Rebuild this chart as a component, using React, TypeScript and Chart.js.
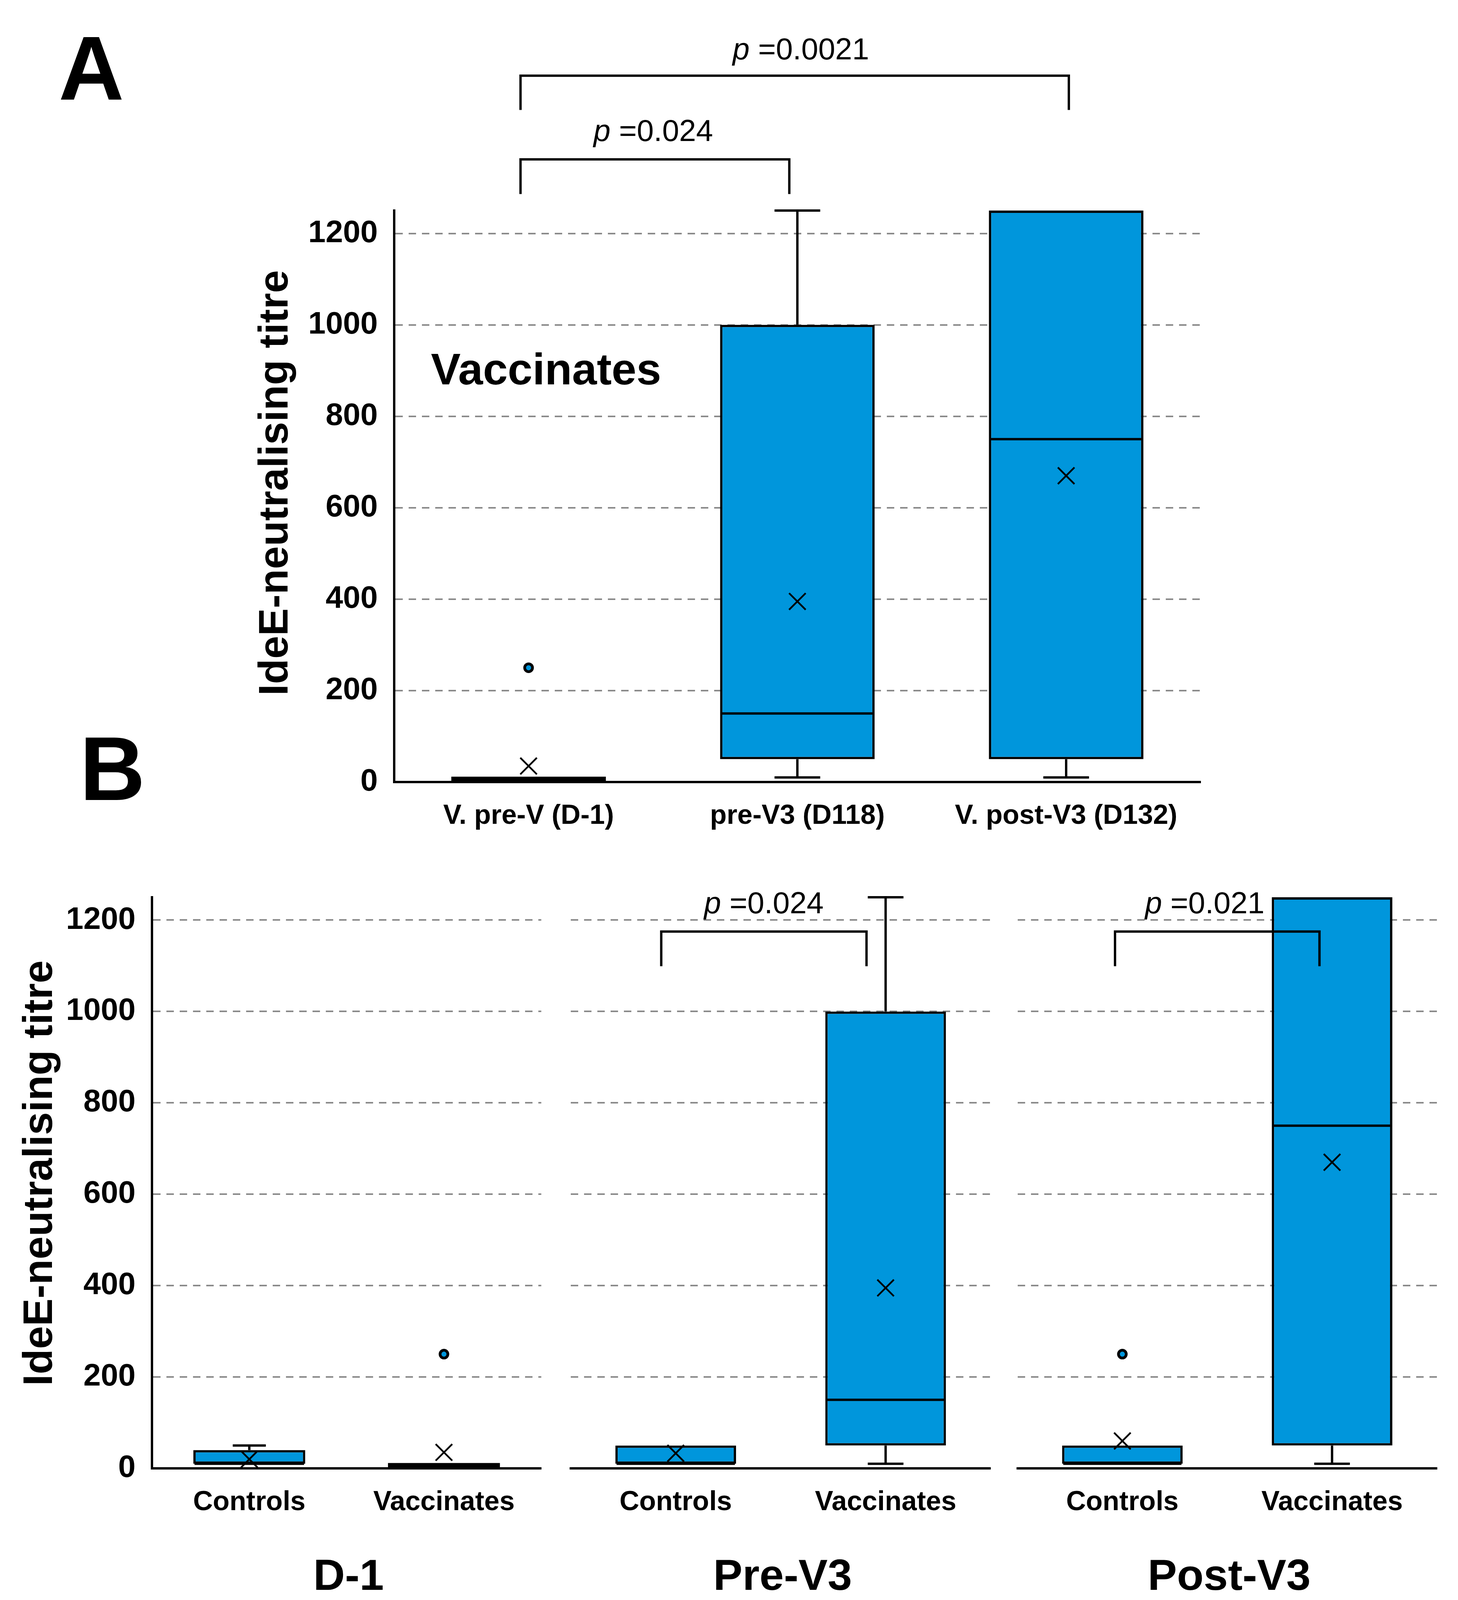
import React, { useEffect, useRef } from "react";
import { Chart, registerables } from "chart.js";

Chart.register(...registerables);

// ---------------- data ----------------
const yTickValues = [0, 200, 400, 600, 800, 1000, 1200];
const yTickLabels = ["0", "200", "400", "600", "800", "1000", "1200"];
const yMax = 1250;
const yTitle = "IdeE-neutralising titre";

// Panel A — vaccinates over time
const aCategories = ["V. pre-V (D-1)", "pre-V3 (D118)", "V. post-V3 (D132)"];
const aMin = [10, 10, 10];
const aQ1 = [10, 50, 50];
const aMedian = [10, 150, 750];
const aQ3 = [10, 1000, 1250];
const aMax = [10, 1250, 1250];
const aMean = [35, 395, 670];
const aOutliers = [[250], [], []];
const aPValues = ["0.024", "0.0021"];

// Panel B — controls vs vaccinates per time point
const bCategories = ["Controls", "Vaccinates"];
const bGroupTitles = [["D-1"], ["Pre-V3", "D 118"], ["Post-V3", "D 132"]];
const bMin = [[10, 10], [10, 10], [10, 10]];
const bQ1 = [[10, 10], [10, 50], [10, 50]];
const bMedian = [[10, 10], [10, 150], [10, 750]];
const bQ3 = [[40, 10], [50, 1000], [50, 1250]];
const bMax = [[50, 10], [50, 1250], [50, 1250]];
const bMean = [[20, 35], [33, 395], [60, 670]];
const bOutliers = [[[], [250]], [[], []], [[250], []]];
const bPValues = [null, "0.024", "0.021"];

// ---------------- styles / layout ----------------
const FONT = "'Liberation Sans', Arial, Helvetica, sans-serif";
const BOX_BLUE = "#0096DC";
const GRID_GREY = "#8a8a8a";

type Stats = {
  min: number[];
  q1: number[];
  median: number[];
  q3: number[];
  max: number[];
  mean: number[];
  outliers: number[][];
};

type Bracket = {
  from: number;
  to: number;
  top: number;
  leg: number;
  label: string;
  labelAt: number;
  labelY: number;
};

type TextItem = {
  text: string;
  x: number;
  y: number;
  size: number;
  bold?: boolean;
  align?: CanvasTextAlign;
  rotate?: boolean;
  baseline?: CanvasTextBaseline;
};

type Layout = {
  left: number;
  top: number;
  width: number;
  height: number;
  padding: { left: number; right: number; top: number; bottom: number };
  yAxisWidth: number;
  xAxisHeight: number;
};

const PANEL_A_LAYOUT: Layout = {
  left: 0,
  top: 0,
  width: 3732,
  height: 2200,
  padding: { left: 709, right: 659, top: 539, bottom: 48 },
  yAxisWidth: 300,
  xAxisHeight: 150,
};

const GROUP_LAYOUTS: Layout[] = [
  { left: 0, top: 2200, width: 1420, height: 2063, padding: { left: 89, right: 22, top: 97, bottom: 354 }, yAxisWidth: 300, xAxisHeight: 150 },
  { left: 1420, top: 2200, width: 1150, height: 2063, padding: { left: 41, right: 33, top: 97, bottom: 354 }, yAxisWidth: 0, xAxisHeight: 150 },
  { left: 2570, top: 2200, width: 1162, height: 2063, padding: { left: 33, right: 54, top: 97, bottom: 354 }, yAxisWidth: 0, xAxisHeight: 150 },
];

const A_BRACKETS: Bracket[] = [
  { from: -0.03, to: 0.97, top: 1362, leg: 1286, label: aPValues[0], labelAt: 0.464, labelY: 1402 },
  { from: -0.03, to: 2.01, top: 1545, leg: 1470, label: aPValues[1], labelAt: 1.013, labelY: 1581 },
];

const B_BRACKET_POS = [
  null,
  { from: -0.069, to: 0.909, top: 1175, leg: 1099, labelAt: 0.42, labelY: 1215 },
  { from: -0.035, to: 0.94, top: 1175, leg: 1099, labelAt: 0.393, labelY: 1215 },
];

const A_TEXTS: TextItem[] = [
  { text: "A", x: 150, y: 255, size: 232, bold: true },
  { text: "B", x: 204, y: 2048, size: 232, bold: true },
  { text: "Vaccinates", x: 1103, y: 984, size: 114, bold: true },
  { text: yTitle, x: 707, y: 1236, size: 106, bold: true, align: "center", rotate: true, baseline: "middle" },
];

const B1_TEXTS: TextItem[] = [
  { text: yTitle, x: 104, y: 803, size: 106, bold: true, align: "center", rotate: true, baseline: "middle" },
];

// ---------------- drawing helpers ----------------
function drawPText(ctx: CanvasRenderingContext2D, value: string, cx: number, baseline: number, size: number) {
  const italic = `italic ${size}px ${FONT}`;
  const regular = `${size}px ${FONT}`;
  ctx.font = italic;
  const wp = ctx.measureText("p").width;
  ctx.font = regular;
  const rest = " =" + value;
  const wr = ctx.measureText(rest).width;
  const x0 = cx - (wp + wr) / 2;
  ctx.textAlign = "left";
  ctx.textBaseline = "alphabetic";
  ctx.fillStyle = "#000";
  ctx.font = italic;
  ctx.fillText("p", x0, baseline);
  ctx.font = regular;
  ctx.fillText(rest, x0 + wp, baseline);
}

function makeBoxPlugin(stats: Stats) {
  return {
    id: "boxExtras",
    afterDatasetDraw(chart: any, args: any) {
      if (args.index !== 0) return;
      const ctx: CanvasRenderingContext2D = chart.ctx;
      const xs = chart.scales.x;
      const ys = chart.scales.y;
      const catW = xs.getPixelForValue(1) - xs.getPixelForValue(0);
      const capHalf = catW * 0.085;
      ctx.save();
      ctx.strokeStyle = "#000";
      ctx.fillStyle = "#000";
      ctx.lineWidth = 6;
      ctx.lineCap = "butt";
      const line = (x1: number, y1: number, x2: number, y2: number) => {
        ctx.beginPath();
        ctx.moveTo(x1, y1);
        ctx.lineTo(x2, y2);
        ctx.stroke();
      };
      args.meta.data.forEach((el: any, i: number) => {
        const { x, width } = el.getProps(["x", "width"], true);
        const half = width / 2;
        const yq1 = ys.getPixelForValue(stats.q1[i]);
        const yq3 = ys.getPixelForValue(stats.q3[i]);
        const ymed = ys.getPixelForValue(stats.median[i]);
        const ymax = ys.getPixelForValue(stats.max[i]);
        const ymin = ys.getPixelForValue(stats.min[i]);
        if (stats.max[i] > stats.q3[i]) {
          line(x, yq3, x, ymax);
          line(x - capHalf, ymax, x + capHalf, ymax);
        }
        if (stats.min[i] < stats.q1[i]) {
          line(x, yq1, x, ymin);
          line(x - capHalf, ymin, x + capHalf, ymin);
        }
        if (stats.q3[i] === stats.q1[i]) {
          // flat box: drawn as a heavy bar
          ctx.fillRect(x - half, yq3 - 2, half * 2, 14);
        } else {
          line(x - half + 3, ymed, x + half - 3, ymed);
        }
      });
      ctx.restore();
    },
  };
}

function makeTextPlugin(texts: TextItem[], brackets: Bracket[], groupTitle?: string[]) {
  return {
    id: "annotTexts",
    afterDraw(chart: any) {
      const ctx: CanvasRenderingContext2D = chart.ctx;
      const xs = chart.scales.x;
      const ys = chart.scales.y;
      ctx.save();
      ctx.fillStyle = "#000";
      texts.forEach((t) => {
        ctx.save();
        ctx.font = `${t.bold ? "bold " : ""}${t.size}px ${FONT}`;
        ctx.textAlign = t.align || "left";
        ctx.textBaseline = t.baseline || "alphabetic";
        if (t.rotate) {
          ctx.translate(t.x, t.y);
          ctx.rotate(-Math.PI / 2);
          ctx.fillText(t.text, 0, 0);
        } else {
          ctx.fillText(t.text, t.x, t.y);
        }
        ctx.restore();
      });
      ctx.strokeStyle = "#000";
      ctx.lineWidth = 6;
      ctx.lineCap = "butt";
      ctx.lineJoin = "miter";
      brackets.forEach((b) => {
        const x1 = xs.getPixelForValue(b.from);
        const x2 = xs.getPixelForValue(b.to);
        const yt = ys.getPixelForValue(b.top);
        const yl = ys.getPixelForValue(b.leg);
        ctx.beginPath();
        ctx.moveTo(x1, yl);
        ctx.lineTo(x1, yt);
        ctx.lineTo(x2, yt);
        ctx.lineTo(x2, yl);
        ctx.stroke();
        drawPText(ctx, b.label, xs.getPixelForValue(b.labelAt), ys.getPixelForValue(b.labelY), 78);
      });
      if (groupTitle) {
        const cx = (chart.chartArea.left + chart.chartArea.right) / 2 + 5;
        ctx.font = `bold 112px ${FONT}`;
        ctx.textAlign = "center";
        ctx.textBaseline = "alphabetic";
        groupTitle.forEach((line, k) => {
          ctx.fillText(line, cx, 1870 + k * 140);
        });
      }
      ctx.restore();
    },
  };
}

// ---------------- component ----------------
type PanelProps = {
  layout: Layout;
  categories: string[];
  stats: Stats;
  showYAxis: boolean;
  texts: TextItem[];
  brackets: Bracket[];
  groupTitle?: string[];
};

function BoxPanel({ layout, categories, stats, showYAxis, texts, brackets, groupTitle }: PanelProps) {
  const ref = useRef<HTMLCanvasElement | null>(null);

  useEffect(() => {
    if (!ref.current) return;
    const outlierCount = Math.max(0, ...stats.outliers.map((o) => o.length));
    const datasets: any[] = [
      {
        type: "bar",
        label: "Interquartile range",
        data: categories.map((_, i) => [stats.q1[i], stats.q3[i]]),
        backgroundColor: BOX_BLUE,
        borderColor: "#000",
        borderWidth: 6,
        borderSkipped: false,
        barPercentage: 0.575,
        categoryPercentage: 1,
        order: 3,
      },
      {
        type: "line",
        label: "Mean",
        data: stats.mean,
        showLine: false,
        pointStyle: "crossRot",
        pointRadius: 30,
        pointBorderWidth: 4.5,
        pointBorderColor: "#000",
        pointBackgroundColor: "rgba(0,0,0,0)",
        order: 1,
      },
    ];
    for (let k = 0; k < outlierCount; k++) {
      datasets.push({
        type: "line",
        label: "Outlier",
        data: stats.outliers.map((o) => (o[k] === undefined ? null : o[k])),
        showLine: false,
        pointStyle: "circle",
        pointRadius: 10,
        pointBorderWidth: 7,
        pointBorderColor: "#000",
        pointBackgroundColor: BOX_BLUE,
        order: 2,
      });
    }

    const chart = new Chart(ref.current, {
      type: "bar",
      data: { labels: categories, datasets },
      options: {
        animation: false,
        responsive: false,
        devicePixelRatio: 1,
        events: [],
        layout: { padding: layout.padding },
        plugins: {
          legend: { display: false },
          tooltip: { enabled: false },
          title: { display: false },
        },
        scales: {
          x: {
            offset: true,
            grid: { display: false, drawTicks: false },
            border: { display: true, color: "#000", width: 6 },
            ticks: {
              color: "#000",
              font: { family: FONT, size: 70, weight: "bold" },
              padding: 46,
              maxRotation: 0,
              autoSkip: false,
            },
            afterFit: (scale: any) => {
              scale.height = layout.xAxisHeight;
            },
          },
          y: {
            min: 0,
            max: yMax,
            afterBuildTicks: (scale: any) => {
              scale.ticks = yTickValues.map((v) => ({ value: v }));
            },
            grid: {
              color: (c: any) => (c.tick && c.tick.value === 0 ? "rgba(0,0,0,0)" : GRID_GREY),
              lineWidth: 4,
              drawTicks: false,
            },
            border: { display: showYAxis, color: "#000", width: 6, dash: [19, 15] },
            ticks: {
              display: showYAxis,
              color: "#000",
              font: { family: FONT, size: 80, weight: "bold" },
              padding: 42,
              callback: (value: any) => {
                const idx = yTickValues.indexOf(Number(value));
                return idx >= 0 ? yTickLabels[idx] : "";
              },
            },
            afterFit: (scale: any) => {
              scale.width = layout.yAxisWidth;
            },
          },
        },
      } as any,
      plugins: [makeBoxPlugin(stats), makeTextPlugin(texts, brackets, groupTitle)],
    });
    return () => chart.destroy();
  }, []);

  return (
    <canvas
      ref={ref}
      width={layout.width}
      height={layout.height}
      style={{ position: "absolute", left: layout.left, top: layout.top, width: layout.width, height: layout.height }}
    />
  );
}

export default function App() {
  const aStats: Stats = { min: aMin, q1: aQ1, median: aMedian, q3: aQ3, max: aMax, mean: aMean, outliers: aOutliers };
  return (
    <div style={{ position: "absolute", left: 0, top: 0, width: 3732, height: 4263, background: "#fff", overflow: "hidden" }}>
      <BoxPanel
        layout={PANEL_A_LAYOUT}
        categories={aCategories}
        stats={aStats}
        showYAxis={true}
        texts={A_TEXTS}
        brackets={A_BRACKETS}
      />
      {GROUP_LAYOUTS.map((lay, g) => {
        const stats: Stats = {
          min: bMin[g],
          q1: bQ1[g],
          median: bMedian[g],
          q3: bQ3[g],
          max: bMax[g],
          mean: bMean[g],
          outliers: bOutliers[g],
        };
        const pos = B_BRACKET_POS[g];
        const pv = bPValues[g];
        const brackets: Bracket[] = pos && pv ? [{ ...pos, label: pv }] : [];
        return (
          <BoxPanel
            key={g}
            layout={lay}
            categories={bCategories}
            stats={stats}
            showYAxis={g === 0}
            texts={g === 0 ? B1_TEXTS : []}
            brackets={brackets}
            groupTitle={bGroupTitles[g]}
          />
        );
      })}
    </div>
  );
}
